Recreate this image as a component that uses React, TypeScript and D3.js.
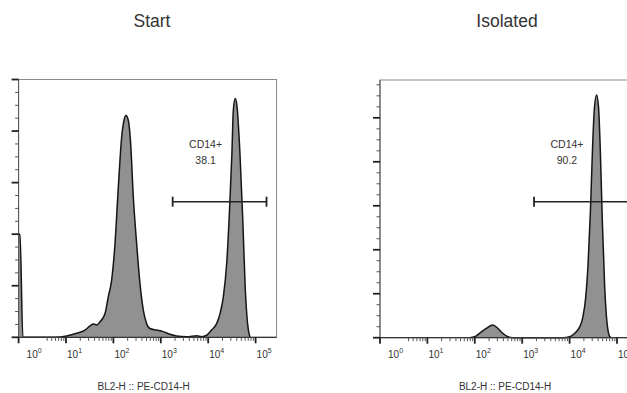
import React from "react";
import * as d3 from "d3";

// ---- data (x = log10 intensity, y = count units) ----
const startLog = [0, 0.03, 0.09, 0.768, 1.014, 1.225, 1.40, 1.506, 1.576, 1.647, 1.717, 1.823, 1.893, 1.963, 2.034, 2.10, 2.174, 2.224, 2.266, 2.314, 2.364, 2.42, 2.49, 2.56, 2.63, 2.70, 2.77, 2.91, 3.05, 3.19, 3.33, 3.55, 3.76, 3.86, 3.97, 4.07, 4.18, 4.25, 4.32, 4.39, 4.45, 4.50, 4.53, 4.57, 4.61, 4.67, 4.73, 4.78, 4.83, 4.88];
const startCount = [2.0, 2.0, 0, 0, 0.025, 0.077, 0.14, 0.22, 0.26, 0.24, 0.30, 0.46, 0.79, 1.11, 1.82, 2.85, 3.88, 4.21, 4.30, 4.21, 3.76, 2.72, 1.82, 1.05, 0.53, 0.27, 0.17, 0.14, 0.11, 0.06, 0.025, 0.01, 0.03, 0.01, 0.04, 0.14, 0.27, 0.46, 0.79, 1.43, 2.47, 3.56, 4.40, 4.63, 4.46, 3.56, 2.27, 0.98, 0.27, 0];

const isoLog = [1.888, 1.994, 2.10, 2.24, 2.38, 2.49, 2.59, 2.70, 2.80, 3.86, 4.00, 4.11, 4.21, 4.28, 4.34, 4.39, 4.44, 4.48, 4.52, 4.57, 4.61, 4.65, 4.69, 4.74, 4.79, 4.85, 4.88];
const isoCount = [0, 0.02, 0.10, 0.21, 0.29, 0.21, 0.10, 0.02, 0, 0, 0.02, 0.10, 0.24, 0.47, 0.92, 1.68, 2.90, 4.19, 5.17, 5.52, 5.25, 4.19, 2.67, 1.16, 0.33, 0.02, 0];

const panelTitles = ["Start", "Isolated"];
const gateNames = ["CD14+", "CD14+"];
const gatePercents = ["38.1", "90.2"];
const gateLogRange = [3.25, 5.23];
const gateLevels = [2.63, 3.09];
const yMaxes = [5, 5.86];
const xMaxLog = 5.443;
const decades = [0, 1, 2, 3, 4, 5];
const axisTitle = "BL2-H :: PE-CD14-H";

const FONT = "'Liberation Sans', Arial, Helvetica, sans-serif";

type PanelProps = {
  left: number;
  top: number;
  bottom: number;
  width: number;
  titleX: number;
  xs: number[];
  ys: number[];
  yMax: number;
  title: string;
  gateName: string;
  gatePct: string;
  gateLevel: number;
};

function Panel(p: PanelProps) {
  const x = d3
    .scaleLog()
    .domain([1, Math.pow(10, xMaxLog)])
    .range([p.left, p.left + p.width]);
  const y = d3.scaleLinear().domain([0, p.yMax]).range([p.bottom, p.top]);
  const pts = p.xs.map((v, i) => [Math.pow(10, v), p.ys[i]] as [number, number]);
  const area = d3
    .area<[number, number]>()
    .x((d) => x(d[0]))
    .y0(y(0))
    .y1((d) => y(d[1]))
    .curve(d3.curveMonotoneX);
  const line = d3
    .line<[number, number]>()
    .x((d) => x(d[0]))
    .y((d) => y(d[1]))
    .curve(d3.curveMonotoneX);

  const minorX: number[] = [];
  for (let e = 0; e < 5; e++) {
    for (let m = e === 0 ? 4 : 2; m <= 9; m++) minorX.push(m * Math.pow(10, e));
  }
  const majorY = d3.range(0, Math.floor(p.yMax) + 1, 1);
  const minorY = d3.range(0, p.yMax + 1e-6, 0.25).filter((v) => Math.abs(v - Math.round(v)) > 1e-6);

  const right = p.left + p.width;
  const cx = (p.left + right) / 2;
  const gx0 = x(Math.pow(10, gateLogRange[0]));
  const gx1 = x(Math.pow(10, gateLogRange[1]));
  const gy = y(p.gateLevel);
  const labelX = (gx0 + gx1) / 2 - 14;

  return (
    <g>
      <text x={p.titleX} y={27} textAnchor="middle" fontFamily={FONT} fontSize={17.5} fill="#333">
        {p.title}
      </text>
      <rect x={p.left} y={p.top} width={p.width} height={p.bottom - p.top} fill="white" stroke="#8a8a8a" strokeWidth={1} />
      <path d={area(pts) || ""} fill="#919191" />
      <path d={line(pts) || ""} fill="none" stroke="#151515" strokeWidth={1.5} strokeLinejoin="round" />
      <line x1={p.left} x2={p.left} y1={p.top} y2={p.bottom} stroke="#555" strokeWidth={1} />
      <line x1={p.left} x2={right} y1={p.bottom} y2={p.bottom} stroke="#333" strokeWidth={1.2} />
      {majorY.map((v) => (
        <line key={"my" + v} x1={p.left - 7} x2={p.left} y1={y(v)} y2={y(v)} stroke="#222" strokeWidth={1.8} />
      ))}
      {minorY.map((v) => (
        <line key={"ny" + v} x1={p.left - 3.5} x2={p.left} y1={y(v)} y2={y(v)} stroke="#555" strokeWidth={1} />
      ))}
      {decades.map((e) => (
        <line key={"mx" + e} x1={x(Math.pow(10, e))} x2={x(Math.pow(10, e))} y1={p.bottom} y2={p.bottom + 6} stroke="#222" strokeWidth={1.8} />
      ))}
      {minorX.map((v) => (
        <line key={"nx" + v} x1={x(v)} x2={x(v)} y1={p.bottom} y2={p.bottom + 3.5} stroke="#555" strokeWidth={1} />
      ))}
      {decades.map((e) => (
        <text key={"lx" + e} x={x(Math.pow(10, e)) + (e === 0 ? 8 : 1)} y={358} fontFamily={FONT} fontSize={10} fill="#333">
          10
          <tspan dy={-5.5} fontSize={7}>
            {e}
          </tspan>
        </text>
      ))}
      <text x={cx - 4} y={390} textAnchor="middle" fontFamily={FONT} fontSize={10} fill="#333">
        {axisTitle}
      </text>
      <line x1={gx0} x2={gx1} y1={gy} y2={gy} stroke="#222" strokeWidth={1.6} />
      <line x1={gx0} x2={gx0} y1={gy - 5} y2={gy + 5} stroke="#222" strokeWidth={1.8} />
      <line x1={gx1} x2={gx1} y1={gy - 5} y2={gy + 5} stroke="#222" strokeWidth={1.8} />
      <text x={labelX} y={148} textAnchor="middle" fontFamily={FONT} fontSize={10.5} fill="#333">
        {p.gateName}
      </text>
      <text x={labelX} y={164} textAnchor="middle" fontFamily={FONT} fontSize={10.5} fill="#333">
        {p.gatePct}
      </text>
    </g>
  );
}

export default function App() {
  return (
    <svg width={627} height={393} style={{ position: "absolute", left: 0, top: 0, background: "white" }}>
      <rect x={0} y={0} width={627} height={393} fill="white" />
      <Panel
        left={18.6}
        top={79.5}
        bottom={337.3}
        width={258}
        titleX={152}
        xs={startLog}
        ys={startCount}
        yMax={yMaxes[0]}
        title={panelTitles[0]}
        gateName={gateNames[0]}
        gatePct={gatePercents[0]}
        gateLevel={gateLevels[0]}
      />
      <Panel
        left={380}
        top={80}
        bottom={337.7}
        width={258}
        titleX={507}
        xs={isoLog}
        ys={isoCount}
        yMax={yMaxes[1]}
        title={panelTitles[1]}
        gateName={gateNames[1]}
        gatePct={gatePercents[1]}
        gateLevel={gateLevels[1]}
      />
    </svg>
  );
}
